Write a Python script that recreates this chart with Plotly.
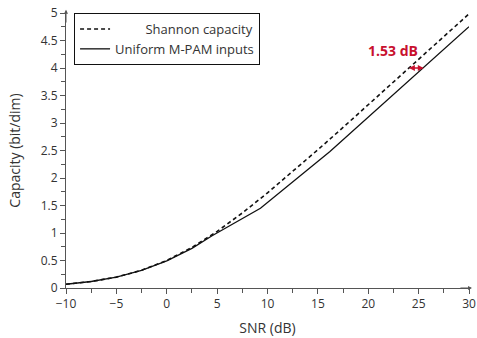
import plotly.graph_objects as go

# Data
snr_shannon = [-10, -7.5, -5, -2.5, 0, 2.5, 5, 7.5, 10, 12.5, 15, 17.5, 20, 22.5, 25, 27.5, 30]
cap_shannon = [0.069, 0.118, 0.198, 0.322, 0.5, 0.737, 1.029, 1.364, 1.730, 2.115, 2.514, 2.919,
               3.329, 3.741, 4.154, 4.569, 4.984]
snr_pam = [-10, -7.5, -5, -2.5, 0, 2.5, 4.5, 9.3, 16.2, 25.4, 30]
cap_pam = [0.068, 0.118, 0.197, 0.32, 0.495, 0.72, 0.95, 1.45, 2.48, 4.0, 4.75]

gap_label = "1.53 dB"
gap_snr = [23.9, 25.5]
gap_cap = 4.0

red = "#c8102e"
font_family = "Open Sans, Noto Sans, sans-serif"

fig = go.Figure()
fig.add_trace(go.Scatter(x=snr_shannon, y=cap_shannon, mode="lines",
                         name="\u00a0" * 9 + "Shannon capacity",
                         line=dict(color="#111", width=1.6, dash="4px,3px")))
fig.add_trace(go.Scatter(x=snr_pam, y=cap_pam, mode="lines",
                         name="Uniform M-PAM inputs",
                         line=dict(color="#111", width=1.3)))

# 1.53 dB gap marker (double-headed arrow)
fig.add_annotation(x=gap_snr[1], y=gap_cap, ax=gap_snr[0], ay=gap_cap,
                   xref="x", yref="y", axref="x", ayref="y",
                   showarrow=True, arrowhead=2, arrowside="end+start",
                   arrowsize=0.9, arrowwidth=1.3, arrowcolor=red, text="")
fig.add_annotation(x=gap_snr[0] - 1.4, y=gap_cap + 0.31, xref="x", yref="y",
                   text="<b>" + gap_label + "</b>", showarrow=False,
                   font=dict(color=red, size=14, family=font_family))

# axis arrows
fig.add_annotation(x=30.3, y=0, ax=29, ay=0, xref="x", yref="y", axref="x", ayref="y",
                   showarrow=True, arrowhead=2, arrowsize=0.8, arrowwidth=1,
                   arrowcolor="#555", text="")
fig.add_annotation(x=-10, y=5.06, ax=-10, ay=4.8, xref="x", yref="y", axref="x", ayref="y",
                   showarrow=True, arrowhead=2, arrowsize=0.8, arrowwidth=1,
                   arrowcolor="#555", text="")

fig.update_layout(
    width=477, height=338,
    margin=dict(l=66, r=8, t=13, b=50, autoexpand=False),
    paper_bgcolor="white", plot_bgcolor="white",
    font=dict(family=font_family, size=12, color="#333"),
    showlegend=True,
    legend=dict(x=0.02, y=1.0, xanchor="left", yanchor="top",
                bordercolor="#111", borderwidth=1, bgcolor="white",
                font=dict(size=13, color="#333"), tracegroupgap=0,
                itemwidth=30),
)
fig.update_xaxes(range=[-10, 30], tickvals=[-10, -5, 0, 5, 10, 15, 20, 25, 30],
                 automargin=False,
                 ticks="outside", ticklen=5, tickcolor="#555",
                 showline=True, linecolor="#555", linewidth=1,
                 showgrid=False, zeroline=False,
                 minor=dict(dtick=2.5, ticks="outside", ticklen=4, tickcolor="#555"),
                 title=dict(text="SNR (dB)", font=dict(size=14, color="#333"), standoff=11),
                 tickfont=dict(size=12, color="#333"))
fig.update_yaxes(range=[0, 5], tickvals=[0, 0.5, 1, 1.5, 2, 2.5, 3, 3.5, 4, 4.5, 5],
                 automargin=False,
                 ticks="outside", ticklen=5, tickcolor="#555",
                 showline=True, linecolor="#555", linewidth=1,
                 showgrid=False, zeroline=False,
                 minor=dict(dtick=0.25, ticks="outside", ticklen=4, tickcolor="#555"),
                 title=dict(text="Capacity (bit/dim)", font=dict(size=14, color="#333"), standoff=16),
                 tickfont=dict(size=12, color="#333"))

fig.write_html("out.html")
